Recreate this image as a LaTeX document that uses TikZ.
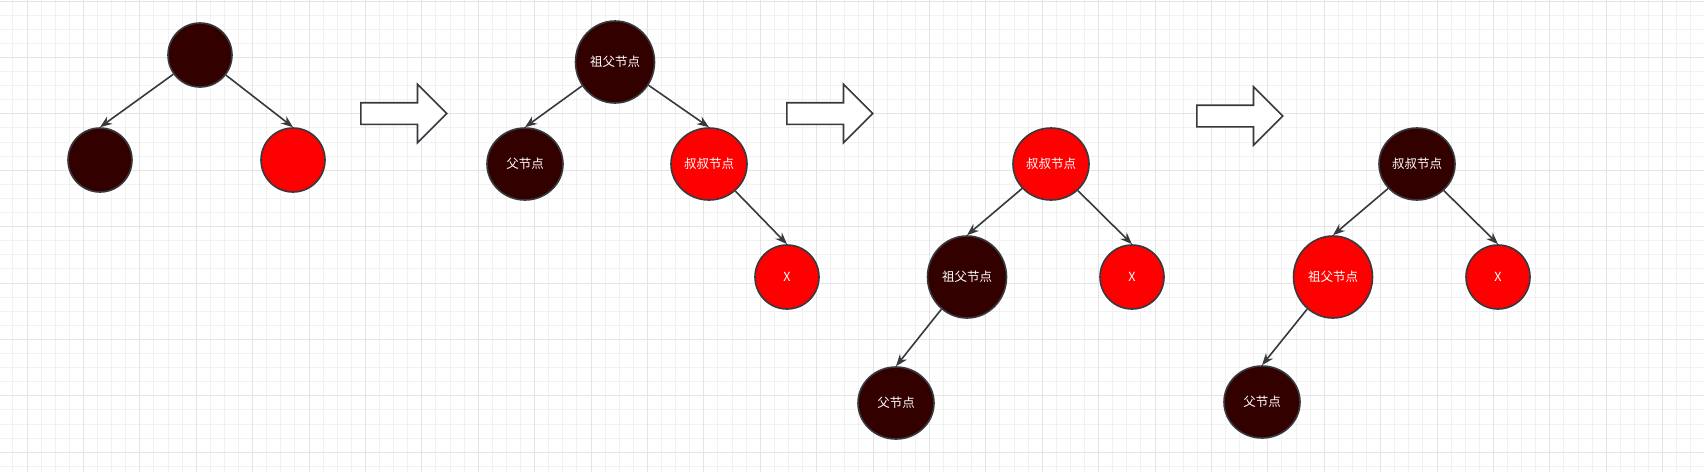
\documentclass[tikz,border=0pt]{standalone}
\usepackage{fontspec}
\newfontfamily\cjk{Noto Sans CJK SC}
\usepackage{xcolor}
\definecolor{nodeblack}{HTML}{330000}
\definecolor{nodered}{HTML}{FF0000}
\definecolor{strokegray}{HTML}{36393D}
\definecolor{gridmajor}{HTML}{E4E4E4}
\definecolor{gridminor}{HTML}{F1F1F1}
\usepackage{tikz}
\usetikzlibrary{arrows.meta,shapes.geometric,shapes.arrows}

\tikzset{
    rbnode/.style={ellipse, draw=strokegray, line width=1.6pt, inner sep=0pt,
        text=white, font=\cjk\fontsize{12.5}{14}\selectfont},
    blacknode/.style={rbnode, fill=nodeblack},
    rednode/.style={rbnode, fill=nodered},
    small/.style={minimum width=64pt, minimum height=64pt},
    mid/.style={minimum width=76pt, minimum height=72pt},
    big/.style={minimum width=79pt, minimum height=82pt},
    link/.style={draw=strokegray, line width=1.6pt, -{Stealth[length=12pt,width=9pt]}},
    bigarrow/.style={single arrow, draw=strokegray, fill=white, line width=1.6pt,
        inner xsep=0pt, inner ysep=10pt, minimum height=86pt,
        single arrow head extend=18.5pt, single arrow tip angle=90, anchor=tail}
}

\begin{document}
\begin{tikzpicture}[x=1pt, y=-1pt]
                \useasboundingbox (0,0) rectangle (1704,472);
                % background grid
                \foreach \i in {0,...,122}
                    \draw[gridminor, line width=1pt] ({-1.2+14.1*\i},0) -- ({-1.2+14.1*\i},472);
                \foreach \j in {0,...,34}
                    \draw[gridminor, line width=1pt] (0,{1+14.1*\j}) -- (1704,{1+14.1*\j});
                \foreach \i in {0,...,30}
                    \draw[gridmajor, line width=1pt] ({27+56.4*\i},0) -- ({27+56.4*\i},472);
                \foreach \j in {0,...,8}
                    \draw[gridmajor, line width=1pt] (0,{1+56.4*\j}) -- (1704,{1+56.4*\j});

                % step 1
                \node[blacknode, small] (root1) at (200,55) {};
                \node[blacknode, small] (left1) at (100,160) {};
                \node[rednode, small] (right1) at (293,160) {};
                \draw[link] (root1) -- (left1.north);
                \draw[link] (root1) -- (right1.north);

                \node[bigarrow] (arrA) at (360,113.5) {};

                % step 2
                \node[blacknode, big] (gp2) at (615,62) {祖父节点};
                \node[blacknode, mid] (p2) at (525,164) {父节点};
                \node[rednode, mid] (u2) at (709,164) {叔叔节点};
                \node[rednode, small] (x2) at (787,277) {X};
                \draw[link] (gp2) -- (p2.north);
                \draw[link] (gp2) -- (u2.north);
                \draw[link] (u2) -- (x2.north);

                \node[bigarrow] (arrB) at (786,113.5) {};

                % step 3
                \node[rednode, mid] (u3) at (1051,164) {叔叔节点};
                \node[blacknode, big] (gp3) at (967,277) {祖父节点};
                \node[rednode, small] (x3) at (1132,277) {X};
                \node[blacknode, mid] (p3) at (896,403) {父节点};
                \draw[link] (u3) -- (gp3.north);
                \draw[link] (u3) -- (x3.north);
                \draw[link] (gp3) -- (p3.north);

                \node[bigarrow] (arrC) at (1196,116) {};

                % step 4
                \node[blacknode, mid] (u4) at (1417,164) {叔叔节点};
                \node[rednode, big] (gp4) at (1333,277) {祖父节点};
                \node[rednode, small] (x4) at (1498,277) {X};
                \node[blacknode, mid] (p4) at (1262,402) {父节点};
                \draw[link] (u4) -- (gp4.north);
                \draw[link] (u4) -- (x4.north);
                \draw[link] (gp4) -- (p4.north);
            \end{tikzpicture}
\end{document}
